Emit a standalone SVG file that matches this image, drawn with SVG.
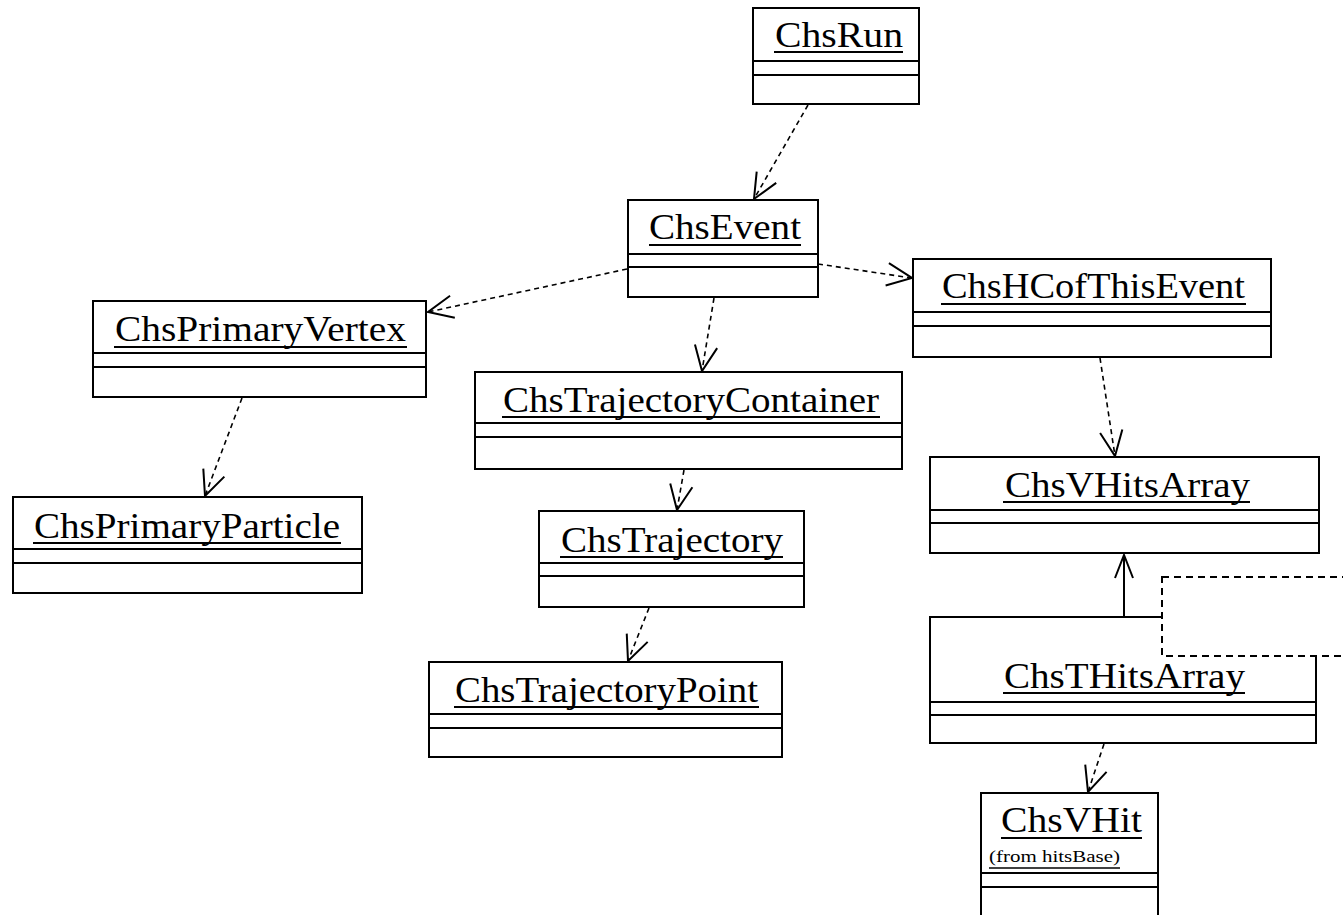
<svg xmlns="http://www.w3.org/2000/svg" width="1343" height="915" viewBox="0 0 1343 915">
<style>
.box{fill:#fff;stroke:#000;stroke-width:2}
.sep{stroke:#000;stroke-width:2}
.t{font-family:"Liberation Serif","Times New Roman",serif;font-size:36px;fill:#000;text-anchor:start}
.s{font-family:"Liberation Serif","Times New Roman",serif;font-size:16px;fill:#000}
.ul{stroke:#000;stroke-width:2}
.dep{fill:none;stroke:#000;stroke-width:1.6;stroke-dasharray:5,4}
.gen{fill:none;stroke:#000;stroke-width:2}
.note{fill:#fff;stroke:#000;stroke-width:2;stroke-dasharray:7,5}
</style>
<defs>
<marker id="open" markerUnits="userSpaceOnUse" markerWidth="30" markerHeight="30" viewBox="-22 -12 24 24" refX="0" refY="0" orient="auto">
<path d="M-20,-9 L0,0 L-20,9" fill="none" stroke="#000" stroke-width="1.6"/>
</marker>
</defs>
<g id="connectors">
<path class="dep" d="M808,105 L754,199" marker-end="url(#open)"/>
<path class="dep" d="M818,264 L912,278" marker-end="url(#open)"/>
<path class="dep" d="M627,269 L428,312" marker-end="url(#open)"/>
<path class="dep" d="M714,298 L702,371" marker-end="url(#open)"/>
<path class="dep" d="M242,398 L205,496" marker-end="url(#open)"/>
<path class="dep" d="M1100,358 L1115,456" marker-end="url(#open)"/>
<path class="dep" d="M684,470 L677,510" marker-end="url(#open)"/>
<path class="dep" d="M649,608 L628,661" marker-end="url(#open)"/>
<path class="dep" d="M1104,744 L1088,792" marker-end="url(#open)"/>
<path class="gen" d="M1124,617 L1124,555"/>
<path class="gen" d="M1115,578 L1124,555 L1133,578"/>
</g>
<g id="ChsRun">
<rect class="box" x="753" y="8" width="166" height="96"/>
<text class="t" x="775" y="47" textLength="128" lengthAdjust="spacingAndGlyphs">ChsRun</text>
<line class="ul" x1="774" y1="52" x2="903" y2="52"/>
<line class="sep" x1="753" y1="61" x2="919" y2="61"/>
<line class="sep" x1="753" y1="75" x2="919" y2="75"/>
</g>
<g id="ChsEvent">
<rect class="box" x="628" y="200" width="190" height="97"/>
<text class="t" x="649" y="239" textLength="152" lengthAdjust="spacingAndGlyphs">ChsEvent</text>
<line class="ul" x1="649" y1="245" x2="801" y2="245"/>
<line class="sep" x1="628" y1="254" x2="818" y2="254"/>
<line class="sep" x1="628" y1="267" x2="818" y2="267"/>
</g>
<g id="ChsHCofThisEvent">
<rect class="box" x="913" y="259" width="358" height="98"/>
<text class="t" x="942" y="298" textLength="303" lengthAdjust="spacingAndGlyphs">ChsHCofThisEvent</text>
<line class="ul" x1="941" y1="304" x2="1246" y2="304"/>
<line class="sep" x1="913" y1="312" x2="1271" y2="312"/>
<line class="sep" x1="913" y1="326" x2="1271" y2="326"/>
</g>
<g id="ChsPrimaryVertex">
<rect class="box" x="93" y="301" width="333" height="96"/>
<text class="t" x="115" y="341" textLength="291" lengthAdjust="spacingAndGlyphs">ChsPrimaryVertex</text>
<line class="ul" x1="114" y1="347" x2="407" y2="347"/>
<line class="sep" x1="93" y1="353" x2="426" y2="353"/>
<line class="sep" x1="93" y1="367" x2="426" y2="367"/>
</g>
<g id="ChsPrimaryParticle">
<rect class="box" x="13" y="497" width="349" height="96"/>
<text class="t" x="34" y="538" textLength="306" lengthAdjust="spacingAndGlyphs">ChsPrimaryParticle</text>
<line class="ul" x1="33" y1="543" x2="341" y2="543"/>
<line class="sep" x1="13" y1="549" x2="362" y2="549"/>
<line class="sep" x1="13" y1="563" x2="362" y2="563"/>
</g>
<g id="ChsTrajectoryContainer">
<rect class="box" x="475" y="372" width="427" height="97"/>
<text class="t" x="503" y="412" textLength="376" lengthAdjust="spacingAndGlyphs">ChsTrajectoryContainer</text>
<line class="ul" x1="502" y1="417" x2="880" y2="417"/>
<line class="sep" x1="475" y1="423" x2="902" y2="423"/>
<line class="sep" x1="475" y1="437" x2="902" y2="437"/>
</g>
<g id="ChsTrajectory">
<rect class="box" x="539" y="511" width="265" height="96"/>
<text class="t" x="561" y="552" textLength="222" lengthAdjust="spacingAndGlyphs">ChsTrajectory</text>
<line class="ul" x1="560" y1="557" x2="783" y2="557"/>
<line class="sep" x1="539" y1="563" x2="804" y2="563"/>
<line class="sep" x1="539" y1="576" x2="804" y2="576"/>
</g>
<g id="ChsTrajectoryPoint">
<rect class="box" x="429" y="662" width="353" height="95"/>
<text class="t" x="455" y="702" textLength="303" lengthAdjust="spacingAndGlyphs">ChsTrajectoryPoint</text>
<line class="ul" x1="454" y1="707" x2="759" y2="707"/>
<line class="sep" x1="429" y1="714" x2="782" y2="714"/>
<line class="sep" x1="429" y1="728" x2="782" y2="728"/>
</g>
<g id="ChsVHitsArray">
<rect class="box" x="930" y="457" width="389" height="96"/>
<text class="t" x="1005" y="497" textLength="245" lengthAdjust="spacingAndGlyphs">ChsVHitsArray</text>
<line class="ul" x1="1003" y1="502" x2="1250" y2="502"/>
<line class="sep" x1="930" y1="510" x2="1319" y2="510"/>
<line class="sep" x1="930" y1="523" x2="1319" y2="523"/>
</g>
<g id="ChsTHitsArray">
<rect class="box" x="930" y="617" width="386" height="126"/>
<text class="t" x="1004" y="688" textLength="241" lengthAdjust="spacingAndGlyphs">ChsTHitsArray</text>
<line class="ul" x1="1003" y1="693" x2="1245" y2="693"/>
<line class="sep" x1="930" y1="702" x2="1316" y2="702"/>
<line class="sep" x1="930" y1="715" x2="1316" y2="715"/>
</g>
<g id="note">
<rect class="note" x="1162" y="577" width="200" height="79"/>
</g>
<g id="ChsVHit">
<rect class="box" x="981" y="793" width="177" height="140"/>
<text class="t" x="1001" y="832" textLength="141" lengthAdjust="spacingAndGlyphs">ChsVHit</text>
<line class="ul" x1="1001" y1="838" x2="1142" y2="838"/>
<text class="s" x="989" y="862" textLength="131" lengthAdjust="spacingAndGlyphs">(from hitsBase)</text>
<line class="ul" x1="989" y1="868" x2="1120" y2="868" style="stroke-width:1.5"/>
<line class="sep" x1="981" y1="873" x2="1158" y2="873"/>
<line class="sep" x1="981" y1="887" x2="1158" y2="887"/>
</g>
</svg>
